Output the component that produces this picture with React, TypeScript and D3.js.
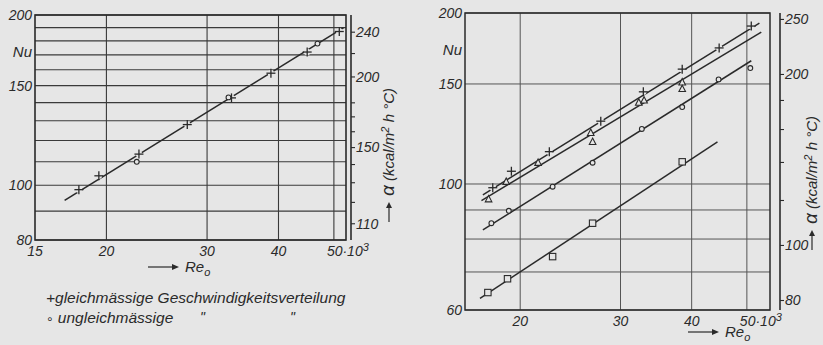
import React from "react";
import * as d3 from "d3";

const W = 823;
const H = 345;
const BG = "#e6e6e6";
const INK = "#2a2a2a";
const FONT = "'Liberation Sans', 'DejaVu Sans', sans-serif";

// ---- left panel: Nu over Re0 (x 10^3) ----
const leftEvenRe = [17.9, 19.4, 22.8, 27.7, 33.1, 38.8, 44.9, 51.1];
const leftEvenNu = [98.2, 103.9, 113.5, 128, 142.7, 157.8, 172, 187];
const leftUnevenRe = [22.6, 32.7, 46.8];
const leftUnevenNu = [110, 143, 178];
const leftFitRe = [16.9, 52];
const leftFitNu = [94, 190];
const leftNuTicks = [80, 100, 150, 200];
const leftReTicks = [15, 20, 30, 40];
const leftAlphaTicks = [110, 120, 130, 140, 150, 160, 170, 180, 200, 220, 240];
const leftAlphaLabels = [110, 150, 200, 240];

// ---- right panel ----
const plusRe = [17.9, 19.3, 22.5, 27.7, 32.9, 38.5, 44.7, 50.9];
const plusNu = [98.5, 105.3, 114, 129, 145.3, 159.3, 173.6, 189.7];
const triRe = [17.6, 18.9, 21.5, 26.6, 26.8, 32.3, 33.0, 38.5, 38.5];
const triNu = [94, 100.9, 109, 123, 118.6, 139.1, 140.3, 151, 147];
const circRe = [17.8, 19.1, 22.8, 26.8, 32.7, 38.5, 44.6, 50.7];
const circNu = [85.3, 89.7, 98.9, 109, 125, 136.6, 152.8, 160];
const sqRe = [17.55, 19.0, 22.8, 26.8, 38.5];
const sqNu = [64.4, 68.1, 74.5, 85.3, 109.4];
const plusFitRe = [17.2, 52.6];
const plusFitNu = [95.7, 192];
const triFitRe = [17.1, 53];
const triFitNu = [93.5, 185];
const circFitRe = [17.2, 50.9];
const circFitNu = [83, 164.8];
const sqFitRe = [17.0, 44.4];
const sqFitNu = [62.9, 118.6];
const rightNuGrid = [60, 70, 80, 90, 100, 150, 200];
const rightNuTicks = [60, 100, 150, 200];
const rightReTicks = [20, 30, 40];
const rightAlphaTicks = [80, 100, 120, 140, 160, 180, 200, 250];
const rightAlphaLabels = [80, 100, 200, 250];

type Pt = [number, number];
const zip = (a: number[], b: number[]): Pt[] => a.map((v, i) => [v, b[i]]);

function Marker({ kind, x, y }: { kind: string; x: number; y: number }) {
  if (kind === "plus") {
    return (
      <g stroke={INK} strokeWidth={1.3}>
        <circle cx={x} cy={y} r={3.2} fill={BG} stroke="none" />
        <line x1={x - 4.5} x2={x + 4.5} y1={y} y2={y} />
        <line x1={x} x2={x} y1={y - 4.5} y2={y + 4.5} />
      </g>
    );
  }
  if (kind === "circ") {
    return <circle cx={x} cy={y} r={2.4} fill={BG} stroke={INK} strokeWidth={1.1} />;
  }
  if (kind === "tri") {
    const p = `M${x},${y - 3.8}L${x + 3.3},${y + 2.6}L${x - 3.3},${y + 2.6}Z`;
    return <path d={p} fill={BG} stroke={INK} strokeWidth={1.1} />;
  }
  return <rect x={x - 3.2} y={y - 3.2} width={6.4} height={6.4} fill={BG} stroke={INK} strokeWidth={1.1} />;
}

function AlphaLabel({ x, y }: { x: number; y: number }) {
  // arrow pointing up, then rotated text
  return (
    <g>
      <line x1={x} x2={x} y1={y} y2={y - 18} stroke={INK} strokeWidth={1.2} />
      <path d={`M${x - 3},${y - 14}L${x},${y - 20}L${x + 3},${y - 14}Z`} fill={INK} />
      <text
        transform={`translate(${x + 5},${y - 26}) rotate(-90)`}
        fontFamily={FONT}
        fontStyle="italic"
        fontSize={15}
        fill={INK}
      >
        <tspan fontSize={19}>α</tspan>
        <tspan> (kcal/m</tspan>
        <tspan dy={-5} fontSize={11}>2</tspan>
        <tspan dy={5}> h °C)</tspan>
      </text>
    </g>
  );
}

function ReLabel({ x, y }: { x: number; y: number }) {
  return (
    <g>
      <line x1={x} x2={x + 28} y1={y - 5} y2={y - 5} stroke={INK} strokeWidth={1.2} />
      <path d={`M${x + 24},${y - 8}L${x + 31},${y - 5}L${x + 24},${y - 2}Z`} fill={INK} />
      <text x={x + 37} y={y} fontFamily={FONT} fontStyle="italic" fontSize={15} fill={INK}>
        Re<tspan dy={4} fontSize={11}>o</tspan>
      </text>
    </g>
  );
}

const tickText = {
  fontFamily: FONT,
  fontStyle: "italic" as const,
  fontSize: 14,
  fill: INK,
};

function LeftPanel() {
  const x = d3.scaleLog().domain([15, 52.5]).range([35, 346]);
  const y = d3.scaleLog().domain([80, 200]).range([240, 15]);
  const a = d3.scaleLog().domain([80 * 1.287, 200 * 1.287]).range([240, 15]);
  const line = d3.line<Pt>().x((d) => x(d[0])).y((d) => y(d[1]));
  const [x0, x1] = x.range();
  const [y0, y1] = y.range();
  const ax = x1 + 5;
  return (
    <g>
      {d3.range(80, 201, 10).map((v) => (
        <line key={"h" + v} x1={x0} x2={x1} y1={y(v)} y2={y(v)} stroke="#3a3a3a" strokeWidth={1.1} />
      ))}
      {[20, 30, 40, 50].map((v) => (
        <line key={"v" + v} x1={x(v)} x2={x(v)} y1={y1} y2={y0} stroke="#3a3a3a" strokeWidth={1.1} />
      ))}
      <rect x={x0} y={y1} width={x1 - x0} height={y0 - y1} fill="none" stroke={INK} strokeWidth={1.6} />
      {leftNuTicks.map((v) => (
        <text key={"yl" + v} x={x0 - 3} y={y(v)} dy="0.35em" textAnchor="end" {...tickText}>
          {v}
        </text>
      ))}
      <text x={x0 - 3} y={y(172)} dy="0.35em" textAnchor="end" {...tickText} fontSize={15}>
        Nu
      </text>
      {leftReTicks.map((v) => (
        <text key={"xl" + v} x={x(v)} y={y0 + 16} textAnchor="middle" {...tickText}>
          {v}
        </text>
      ))}
      <text x={x(50) - 7} y={y0 + 16} {...tickText}>
        50·10<tspan dy={-5} fontSize={11}>3</tspan>
      </text>
      {/* alpha axis */}
      <line x1={ax} x2={ax} y1={y1} y2={y0} stroke={INK} strokeWidth={1.6} />
      {leftAlphaTicks.map((v) => (
        <line key={"at" + v} x1={ax} x2={ax + 4} y1={a(v)} y2={a(v)} stroke={INK} strokeWidth={1.1} />
      ))}
      {leftAlphaLabels.map((v) => (
        <text key={"al" + v} x={ax + 5} y={a(v)} dy="0.35em" {...tickText}>
          {v}
        </text>
      ))}
      <AlphaLabel x={389} y={222} />
      <ReLabel x={148} y={272} />
      <path d={line(zip(leftFitRe, leftFitNu)) || ""} fill="none" stroke={INK} strokeWidth={1.6} />
      {zip(leftEvenRe, leftEvenNu).map((d, i) => (
        <Marker key={"le" + i} kind="plus" x={x(d[0])} y={y(d[1])} />
      ))}
      {zip(leftUnevenRe, leftUnevenNu).map((d, i) => (
        <Marker key={"lu" + i} kind="circ" x={x(d[0])} y={y(d[1])} />
      ))}
      {/* legend */}
      <text x={46} y={303} fontFamily={FONT} fontStyle="italic" fontSize={15.5} fill={INK}>
        +gleichmässige  Geschwindigkeitsverteilung
      </text>
      <text x={46} y={323} fontFamily={FONT} fontStyle="italic" fontSize={15.5} fill={INK}>
        <tspan fontSize={12}>∘</tspan> ungleichmässige
      </text>
      <text x={200} y={322} fontFamily={FONT} fontStyle="italic" fontSize={14} fill={INK}>
        "
      </text>
      <text x={290} y={322} fontFamily={FONT} fontStyle="italic" fontSize={14} fill={INK}>
        "
      </text>
    </g>
  );
}

function RightPanel() {
  const x = d3.scaleLog().domain([16, 54.9]).range([465, 770]);
  const y = d3.scaleLog().domain([60, 200]).range([310, 13]);
  const a = d3.scaleLog().domain([60 * 1.283, 200 * 1.283]).range([310, 13]);
  const line = d3.line<Pt>().x((d) => x(d[0])).y((d) => y(d[1]));
  const [x0, x1] = x.range();
  const [y0, y1] = y.range();
  const ax = x1 + 10;
  const series = [
    { kind: "plus", re: plusRe, nu: plusNu, fre: plusFitRe, fnu: plusFitNu },
    { kind: "tri", re: triRe, nu: triNu, fre: triFitRe, fnu: triFitNu },
    { kind: "circ", re: circRe, nu: circNu, fre: circFitRe, fnu: circFitNu },
    { kind: "sq", re: sqRe, nu: sqNu, fre: sqFitRe, fnu: sqFitNu },
  ];
  return (
    <g>
      {rightNuGrid.map((v) => (
        <line key={"h" + v} x1={x0} x2={x1} y1={y(v)} y2={y(v)} stroke="#555" strokeWidth={1} />
      ))}
      {[20, 30, 40, 50].map((v) => (
        <line key={"v" + v} x1={x(v)} x2={x(v)} y1={y1} y2={y0} stroke="#555" strokeWidth={1} />
      ))}
      <rect x={x0} y={y1} width={x1 - x0} height={y0 - y1} fill="none" stroke={INK} strokeWidth={1.5} />
      {rightNuTicks.map((v) => (
        <text key={"yl" + v} x={x0 - 3} y={y(v)} dy="0.35em" textAnchor="end" {...tickText}>
          {v}
        </text>
      ))}
      <text x={x0 - 3} y={y(172)} dy="0.35em" textAnchor="end" {...tickText} fontSize={15}>
        Nu
      </text>
      {rightReTicks.map((v) => (
        <text key={"xl" + v} x={x(v)} y={y0 + 16} textAnchor="middle" {...tickText}>
          {v}
        </text>
      ))}
      <text x={x(50) - 7} y={y0 + 16} {...tickText}>
        50·10<tspan dy={-5} fontSize={11}>3</tspan>
      </text>
      <line x1={ax} x2={ax} y1={y1} y2={y0} stroke={INK} strokeWidth={1.6} />
      {rightAlphaTicks.map((v) => (
        <line key={"at" + v} x1={ax} x2={ax + 4} y1={a(v)} y2={a(v)} stroke={INK} strokeWidth={1.1} />
      ))}
      {rightAlphaLabels.map((v) => (
        <text key={"al" + v} x={ax + 5} y={a(v)} dy="0.35em" {...tickText}>
          {v}
        </text>
      ))}
      <AlphaLabel x={812} y={250} />
      <ReLabel x={688} y={337} />
      {series.map((s) => (
        <path
          key={"l" + s.kind}
          d={line(zip(s.fre, s.fnu)) || ""}
          fill="none"
          stroke={INK}
          strokeWidth={1.5}
        />
      ))}
      {series.map((s) =>
        zip(s.re, s.nu).map((d, i) => (
          <Marker key={s.kind + i} kind={s.kind} x={x(d[0])} y={y(d[1])} />
        ))
      )}
    </g>
  );
}

export default function App() {
  return (
    <svg
      width={W}
      height={H}
      style={{ position: "absolute", left: 0, top: 0, display: "block" }}
    >
      <rect width={W} height={H} fill={BG} />
      <LeftPanel />
      <RightPanel />
    </svg>
  );
}
